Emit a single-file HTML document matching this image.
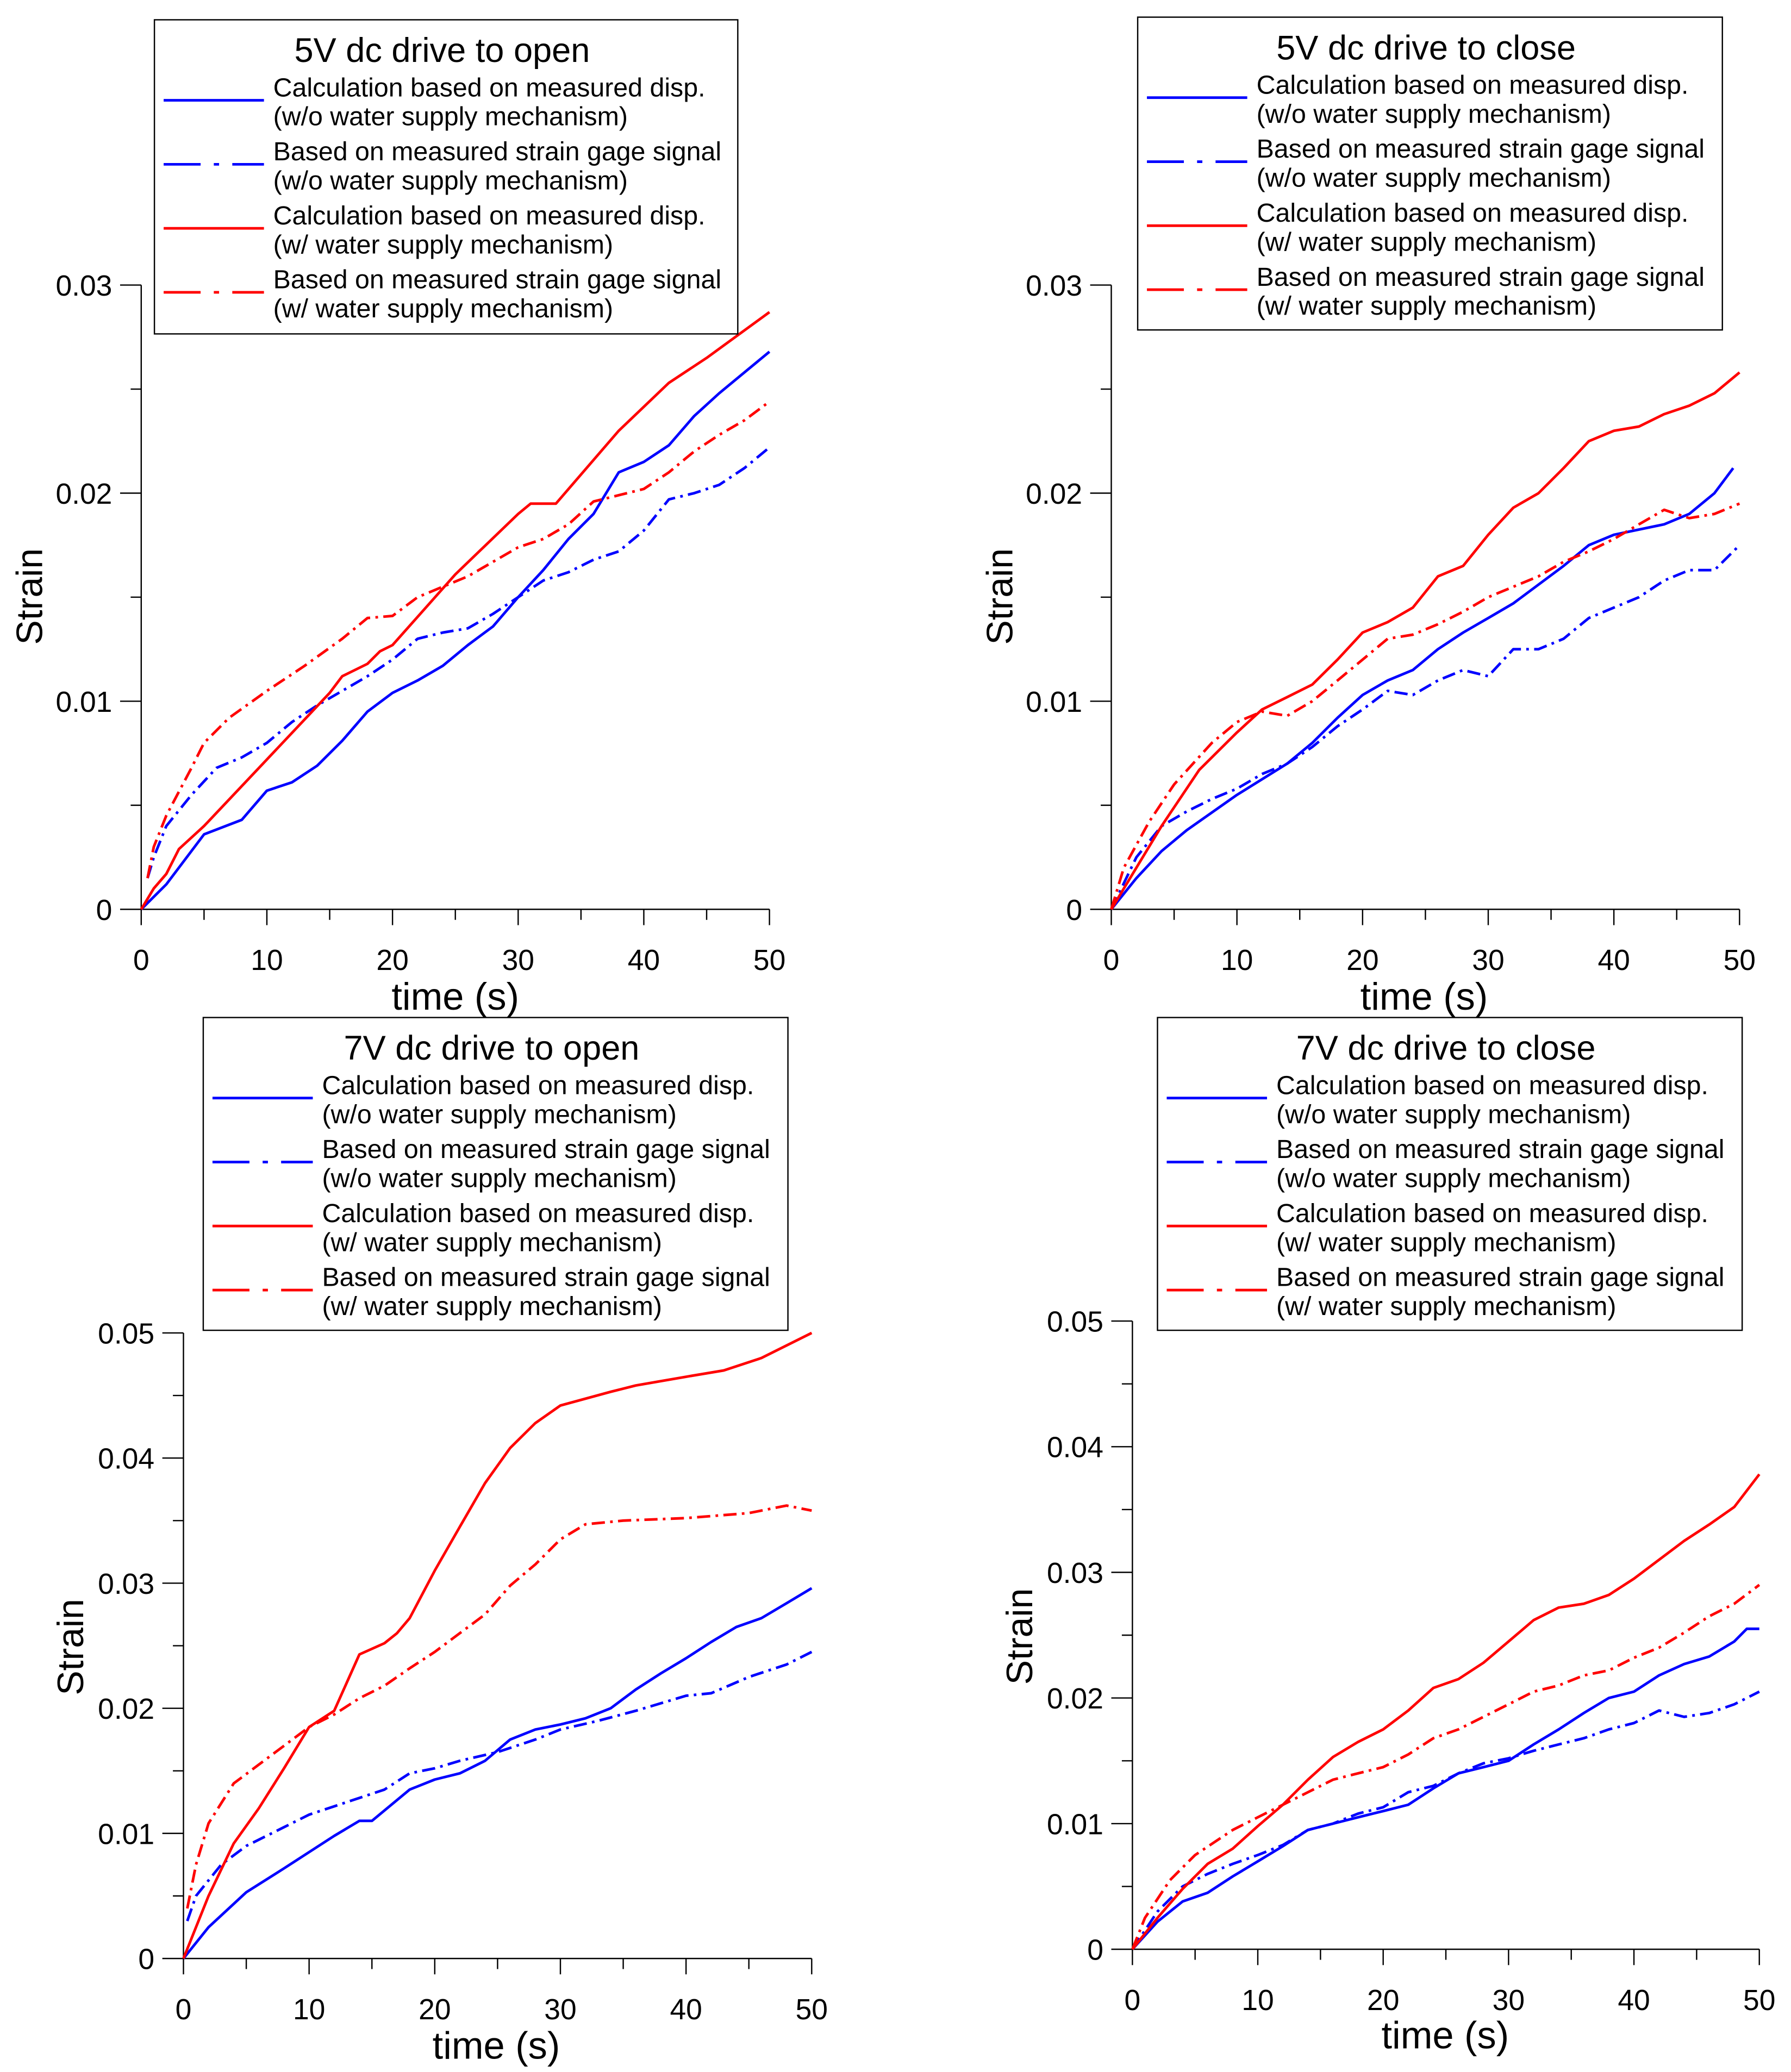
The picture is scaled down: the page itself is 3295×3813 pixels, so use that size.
<!DOCTYPE html>
<html><head><meta charset="utf-8">
<style>
html,body{margin:0;padding:0;background:#fff;}
svg{display:block;font-family:"Liberation Sans",Arial,sans-serif;}
</style></head>
<body>
<svg id="fig" width="3295" height="3813" viewBox="0 0 1357 1570" preserveAspectRatio="none" xmlns="http://www.w3.org/2000/svg"></svg>
<script>
// ---- data ----
const tlBlueSolidX=[0,2,5,8,10,12,14,16,18,20,22,24,26,28,30,32,34,36,38,40,42,44,46,48,50];
const tlBlueSolidY=[0,.0012,.0036,.0043,.0057,.0061,.0069,.0081,.0095,.0104,.0110,.0117,.0127,.0136,.0150,.0163,.0178,.0190,.0210,.0215,.0223,.0237,.0248,.0258,.0268];
const tlBlueDashX=[0.5,1,2,4,6,8,10,12,14,16,18,20,22,24,26,28,30,32,34,36,38,40,42,44,46,48,50];
const tlBlueDashY=[.0015,.0025,.0040,.0055,.0068,.0073,.0080,.0090,.0098,.0105,.0112,.0120,.0130,.0133,.0135,.0142,.0150,.0158,.0162,.0168,.0172,.0182,.0197,.0200,.0204,.0212,.0222];
const tlRedSolidX=[0,1,2,3,5,10,15,16,18,19,20,25,30,31,33,38,42,45,50];
const tlRedSolidY=[0,.001,.0017,.0029,.0040,.0072,.0104,.0112,.0118,.0124,.0127,.0161,.0190,.0195,.0195,.0230,.0253,.0265,.0287];
const tlRedDashX=[0.5,1,2,4,5,7,10,13,16,18,20,22,26,30,32,34,36,40,42,44,46,48,50];
const tlRedDashY=[.0015,.0030,.0045,.0068,.0080,.0092,.0105,.0117,.0130,.0140,.0141,.0150,.0160,.0174,.0178,.0185,.0196,.0202,.0210,.0220,.0228,.0235,.0244];

const trBlueSolidX=[0,2,4,6,10,14,16,18,20,22,24,26,28,30,32,36,38,40,44,46,48,49.5];
const trBlueSolidY=[0,.0015,.0028,.0038,.0055,.0070,.0080,.0092,.0103,.0110,.0115,.0125,.0133,.0140,.0147,.0165,.0175,.0180,.0185,.0190,.0200,.0212];
const trBlueDashX=[0,2,4,6,8,10,12,14,16,18,20,22,24,26,28,30,32,34,36,38,40,42,44,46,48,50];
const trBlueDashY=[0,.0025,.0040,.0047,.0053,.0058,.0065,.0070,.0078,.0088,.0096,.0105,.0103,.0110,.0115,.0112,.0125,.0125,.0130,.0140,.0145,.0150,.0158,.0163,.0163,.0175];
const trRedSolidX=[0,2,4,7,10,12,14,16,18,20,22,24,26,28,30,32,34,36,38,40,42,44,46,48,50];
const trRedSolidY=[0,.0020,.0040,.0067,.0085,.0096,.0102,.0108,.0120,.0133,.0138,.0145,.0160,.0165,.0180,.0193,.0200,.0212,.0225,.0230,.0232,.0238,.0242,.0248,.0258];
const trRedDashX=[0,1,3,5,8,10,12,14,16,18,20,22,24,26,28,30,32,34,36,38,40,42,44,46,48,50];
const trRedDashY=[0,.0020,.0042,.0060,.0080,.0090,.0095,.0093,.0100,.0110,.0120,.0130,.0132,.0137,.0143,.0150,.0155,.0160,.0167,.0172,.0178,.0185,.0192,.0188,.0190,.0195];

const blBlueSolidX=[0,2,5,8,10,12,14,15,18,20,22,24,26,28,30,32,34,36,38,40,42,44,46,48,50];
const blBlueSolidY=[0,.0025,.0053,.0072,.0085,.0098,.0110,.0110,.0135,.0143,.0148,.0158,.0175,.0183,.0187,.0192,.0200,.0215,.0228,.0240,.0253,.0265,.0272,.0284,.0296];
const blBlueDashX=[0.3,1,3,5,8,10,13,16,18,20,22,25,28,30,33,36,40,42,45,48,50];
const blBlueDashY=[.003,.0050,.0075,.0090,.0105,.0115,.0125,.0135,.0148,.0152,.0158,.0165,.0175,.0183,.0190,.0198,.0210,.0212,.0225,.0235,.0245];
const blRedSolidX=[0,2,4,6,8,10,12,14,16,17,18,20,22,24,26,28,30,34,36,40,43,46,50];
const blRedSolidY=[0,.0050,.0092,.0120,.0152,.0185,.0198,.0243,.0252,.0260,.0272,.0310,.0345,.0380,.0408,.0428,.0442,.0453,.0458,.0465,.0470,.0480,.0500];
const blRedDashX=[0.3,1,2,4,6,8,10,12,14,16,18,20,22,24,26,28,30,32,35,40,45,48,50];
const blRedDashY=[.004,.0075,.0108,.0140,.0155,.0170,.0185,.0195,.0208,.0218,.0232,.0245,.0260,.0275,.0298,.0315,.0335,.0347,.0350,.0352,.0356,.0362,.0358];

const brBlueSolidX=[0,2,4,6,8,10,12,14,16,18,20,22,24,26,28,30,32,34,36,38,40,42,44,46,48,49,50];
const brBlueSolidY=[0,.0022,.0038,.0045,.0058,.0070,.0082,.0095,.0100,.0105,.0110,.0115,.0128,.0140,.0145,.0150,.0163,.0175,.0188,.0200,.0205,.0218,.0227,.0233,.0245,.0255,.0255];
const brBlueDashX=[0,2,4,6,8,10,12,14,16,18,20,22,24,26,28,30,32,34,36,38,40,42,44,46,48,50];
const brBlueDashY=[0,.0030,.0050,.0060,.0068,.0075,.0083,.0095,.0100,.0108,.0113,.0125,.0130,.0140,.0148,.0152,.0158,.0163,.0168,.0175,.0180,.0190,.0185,.0188,.0195,.0205];
const brRedSolidX=[0,2,4,6,8,10,12,14,16,18,20,22,24,26,28,30,32,34,36,38,40,42,44,46,48,50];
const brRedSolidY=[0,.0025,.0048,.0068,.0080,.0098,.0115,.0135,.0153,.0165,.0175,.0190,.0208,.0215,.0228,.0245,.0262,.0272,.0275,.0282,.0295,.0310,.0325,.0338,.0352,.0378];
const brRedDashX=[0,1,3,5,8,10,12,14,16,18,20,22,24,26,28,30,32,34,36,38,40,42,44,46,48,50];
const brRedDashY=[0,.0025,.0055,.0075,.0095,.0105,.0115,.0125,.0135,.0140,.0145,.0155,.0168,.0175,.0185,.0195,.0205,.0210,.0218,.0222,.0232,.0240,.0252,.0265,.0275,.0290];

const xTicks=[0,10,20,30,40,50];
const yTicks3=[0,0.01,0.02,0.03];
const yTickLabels3=["0","0.01","0.02","0.03"];
const yTicks5=[0,0.01,0.02,0.03,0.04,0.05];
const yTickLabels5=["0","0.01","0.02","0.03","0.04","0.05"];
const legendLabels=[["Calculation based on measured disp.","(w/o water supply mechanism)"],["Based on measured strain gage signal","(w/o water supply mechanism)"],["Calculation based on measured disp.","(w/ water supply mechanism)"],["Based on measured strain gage signal","(w/ water supply mechanism)"]];

const NS="http://www.w3.org/2000/svg";
const svg=document.getElementById('fig');
function mk(tag,attrs,parent){const e=document.createElementNS(NS,tag);for(const k in attrs)e.setAttribute(k,attrs[k]);(parent||svg).appendChild(e);return e;}

const panels=[
 {id:'tl',title:'5V dc drive to open',x0:107,x1:583,y0:689,ytop:216,ymax:0.03,yt:yTicks3,yl:yTickLabels3,leg:[117,15,442,238],sx:22,sy:452,tx:345,ty:765,
  series:[[tlBlueSolidX,tlBlueSolidY,'#0000ff',0],[tlBlueDashX,tlBlueDashY,'#0000ff',1],[tlRedSolidX,tlRedSolidY,'#ff0000',0],[tlRedDashX,tlRedDashY,'#ff0000',1]]},
 {id:'tr',title:'5V dc drive to close',x0:842,x1:1318,y0:689,ytop:216,ymax:0.03,yt:yTicks3,yl:yTickLabels3,leg:[862,13,443,237],sx:757,sy:452,tx:1079,ty:765,
  series:[[trBlueSolidX,trBlueSolidY,'#0000ff',0],[trBlueDashX,trBlueDashY,'#0000ff',1],[trRedSolidX,trRedSolidY,'#ff0000',0],[trRedDashX,trRedDashY,'#ff0000',1]]},
 {id:'bl',title:'7V dc drive to open',x0:139,x1:615,y0:1484,ytop:1010,ymax:0.05,yt:yTicks5,yl:yTickLabels5,leg:[154,771,443,237],sx:53,sy:1248,tx:376,ty:1560,
  series:[[blBlueSolidX,blBlueSolidY,'#0000ff',0],[blBlueDashX,blBlueDashY,'#0000ff',1],[blRedSolidX,blRedSolidY,'#ff0000',0],[blRedDashX,blRedDashY,'#ff0000',1]]},
 {id:'br',title:'7V dc drive to close',x0:858,x1:1333,y0:1477,ytop:1001,ymax:0.05,yt:yTicks5,yl:yTickLabels5,leg:[877,771,443,237],sx:772,sy:1240,tx:1095,ty:1552,
  series:[[brBlueSolidX,brBlueSolidY,'#0000ff',0],[brBlueDashX,brBlueDashY,'#0000ff',1],[brRedSolidX,brRedSolidY,'#ff0000',0],[brRedDashX,brRedDashY,'#ff0000',1]]}
];
const seriesNames=['blue-solid-calc-wo-water','blue-dashdot-gage-wo-water','red-solid-calc-w-water','red-dashdot-gage-w-water'];

panels.forEach(p=>{
 const g=mk('g',{});
 
 
 const X=v=>p.x0+(p.x1-p.x0)*v/50;
 const Y=v=>p.y0-(p.y0-p.ytop)*v/p.ymax;
 const ax=mk('path',{d:`M${p.x0},${p.ytop} L${p.x0},${p.y0} L${p.x1},${p.y0}`,stroke:'#000','stroke-width':1,fill:'none'},g);
 
 
 for(let v=0;v<=50;v+=5){const big=v%10===0;mk('line',{x1:X(v),x2:X(v),y1:p.y0,y2:p.y0+(big?12:8),stroke:'#000','stroke-width':1},g);}
 xTicks.forEach(v=>{const t=mk('text',{x:X(v),y:p.y0+46,'font-size':22,'text-anchor':'middle'},g);t.textContent=v;
  
  });
 const step=0.005;
 for(let i=0;i<=Math.round(p.ymax/step);i++){const v=i*step;const big=i%2===0;mk('line',{x1:p.x0,x2:p.x0-(big?16:8),y1:Y(v),y2:Y(v),stroke:'#000','stroke-width':1},g);}
 p.yt.forEach((v,i)=>{const t=mk('text',{x:p.x0-22,y:Y(v)+8,'font-size':22,'text-anchor':'end'},g);t.textContent=p.yl[i];
  
  });
 const xt=mk('text',{x:p.tx,y:p.ty,'font-size':29,'text-anchor':'middle'},g);xt.textContent='time (s)';
 
 
 const yt=mk('text',{x:p.sx,y:p.sy,'font-size':28,'text-anchor':'middle',transform:`rotate(-90 ${p.sx} ${p.sy})`,dy:10},g);yt.textContent='Strain';
 
 
 p.series.forEach((s,si)=>{
  const d=s[0].map((x,i)=>(i?'L':'M')+X(x).toFixed(1)+','+Y(s[1][i]).toFixed(1)).join(' ');
  const pa=mk('path',{d:d,stroke:s[2],'stroke-width':2,fill:'none','stroke-linejoin':'round'},g);
  if(s[3])pa.setAttribute('stroke-dasharray','10,4,2,4');
  
  
 });
 const [lx,ly,lw,lh]=p.leg;
 const lg=mk('g',{},g);
 
 
 mk('rect',{x:lx,y:ly,width:lw,height:lh,fill:'#fff',stroke:'#000','stroke-width':1},lg);
 const tt=mk('text',{x:lx+lw/2-3,y:ly+32,'font-size':26,'text-anchor':'middle'},lg);tt.textContent=p.title;
 
 
 legendLabels.forEach((lab,i)=>{
  const ry=ly+61+i*48.5;
  const col=i<2?'#0000ff':'#ff0000';
  const ln=mk('line',{x1:lx+7,x2:lx+83,y1:ry,y2:ry,stroke:col,'stroke-width':2},lg);
  if(i%2)ln.setAttribute('stroke-dasharray','28,10,4,10');
  
  
  const t1=mk('text',{x:lx+90,y:ry-3,'font-size':19.9},lg);t1.textContent=lab[0];
  
  
  const t2=mk('text',{x:lx+90,y:ry+19,'font-size':19.9},lg);t2.textContent=lab[1];
  
  
 });
});
</script>
</body></html>
